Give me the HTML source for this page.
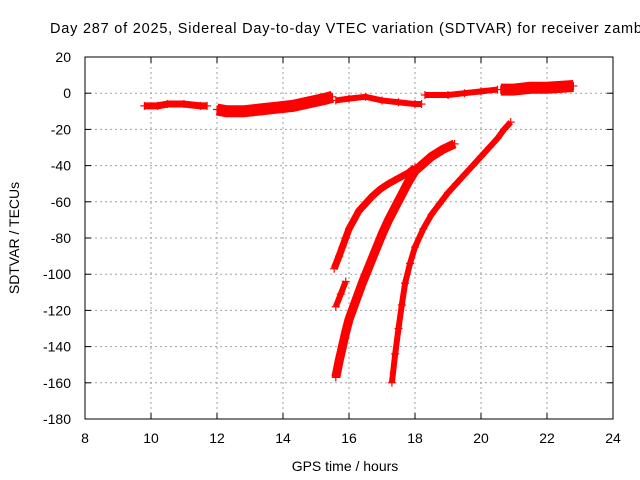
<!DOCTYPE html>
<html><head><meta charset="utf-8"><style>
body{margin:0;background:#fff}
svg{display:block;font-family:"Liberation Sans",sans-serif}
</style></head><body>
<svg id="c" width="640" height="480">
<text x="50" y="33" font-size="14.5" textLength="592" lengthAdjust="spacing">Day 287 of 2025, Sidereal Day-to-day VTEC variation (SDTVAR) for receiver zamb</text>
<text x="345" y="471" font-size="14" text-anchor="middle">GPS time / hours</text>
<text transform="translate(19,238) rotate(-90)" font-size="14" text-anchor="middle">SDTVAR / TECUs</text>
<g id="grid"></g><g id="ticks"></g><g id="marks"></g>
<rect x="85" y="57" width="528" height="362" fill="none" stroke="#000"/>
</svg>
<script>
const xTicks=[8,10,12,14,16,18,20,22,24];
const yTicks=[20,0,-20,-40,-60,-80,-100,-120,-140,-160,-180];
const baseA_x=[9.8,10.2,10.5,11,11.5,11.7];
const baseA_y=[-7,-7,-6,-6,-7,-7];
const baseB_x=[12,12.3,12.8,13.3,13.8,14.3,14.8,15.3,15.5];
const baseB_y=[-9,-10,-10,-9,-8,-7,-5,-3,-2];
const baseC_x=[15.6,16,16.5,17,17.5,18,18.2];
const baseC_y=[-4,-3,-2,-4,-5,-6,-6];
const baseD_x=[18.3,19,19.5,20,20.5];
const baseD_y=[-1,-1,0,1,2];
const baseE_x=[20.6,21,21.5,22,22.8];
const baseE_y=[2,2,3,3,4];
const c1_x=[15.55,15.7,15.8,15.9,16,16.15,16.3,16.5,16.7,16.95,17.2,17.4,17.6,17.8,18];
const c1_y=[-97,-90,-85,-80,-75,-70,-65,-61,-57,-53,-50,-48,-46,-44,-41];
const c1b_x=[15.6,15.75,15.9];
const c1b_y=[-118,-111,-104];
const c2_x=[15.6,15.7,15.8,15.9,16,16.2,16.4,16.6,16.8,17,17.2,17.4,17.6,17.8,18,18.25,18.5,18.85,19.2];
const c2_y=[-157,-148,-140,-132,-125,-115,-105,-96,-87,-78,-70,-63,-56,-49,-43,-39,-35,-31,-28];
const c3_x=[17.3,17.4,17.5,17.6,17.7,17.85,18,18.25,18.5,18.75,19,19.25,19.5,19.75,20,20.25,20.5,20.7,20.9];
const c3_y=[-160,-144,-130,-117,-105,-94,-85,-75,-67,-61,-55,-50,-45,-40,-35,-30,-25,-20,-16];
const series=[[baseA_x,baseA_y,7],[baseB_x,baseB_y,12],[baseC_x,baseC_y,6],[baseD_x,baseD_y,6],[baseE_x,baseE_y,12],
[c1_x,c1_y,7],[c1b_x,c1b_y,6],[c2_x,c2_y,9],[c3_x,c3_y,6]];
const X=v=>85+(v-8)*33, Y=v=>57+(20-v)*1.81;
const NS="http://www.w3.org/2000/svg";
const mk=(t,a,p)=>{const e=document.createElementNS(NS,t);for(const k in a)e.setAttribute(k,a[k]);p.appendChild(e);return e;};
const grid=document.getElementById('grid'),ticks=document.getElementById('ticks'),marks=document.getElementById('marks');
xTicks.forEach(t=>{
 if(t>8&&t<24){const l=mk('line',{x1:X(t),x2:X(t),y1:57,y2:419,stroke:'#a0a0a0','stroke-dasharray':'2,3'},grid);
 
 }
 const tx=mk('text',{x:X(t),y:443,'font-size':14,'text-anchor':'middle'},ticks);tx.textContent=t;
 
 
 mk('line',{x1:X(t),x2:X(t),y1:419,y2:413,stroke:'#000'},ticks);
 mk('line',{x1:X(t),x2:X(t),y1:57,y2:63,stroke:'#000'},ticks);
});
yTicks.forEach(t=>{
 if(t<20&&t>-180){const l=mk('line',{x1:85,x2:613,y1:Y(t),y2:Y(t),stroke:'#a0a0a0','stroke-dasharray':'2,3'},grid);
 
 }
 const tx=mk('text',{x:71,y:Y(t)+5,'font-size':14,'text-anchor':'end'},ticks);tx.textContent=t;
 
 
 mk('line',{x1:85,x2:91,y1:Y(t),y2:Y(t),stroke:'#000'},ticks);
 mk('line',{x1:613,x2:607,y1:Y(t),y2:Y(t),stroke:'#000'},ticks);
});
series.forEach(([xs,ys,w],i)=>{
 const pts=xs.map((x,j)=>X(x)+','+Y(ys[j])).join(' ');
 const pl=mk('polyline',{points:pts,fill:'none',stroke:'#f00','stroke-width':w,'stroke-linejoin':'round'},marks);
 
 
 xs.forEach((x,j)=>{
  const cx=X(x),cy=Y(ys[j]);
  const p=mk('path',{d:`M${cx-4},${cy}h8M${cx},${cy-4}v8`,stroke:'#f00','stroke-width':1.2},marks);
  
  
 });
});
</script>
</body></html>
